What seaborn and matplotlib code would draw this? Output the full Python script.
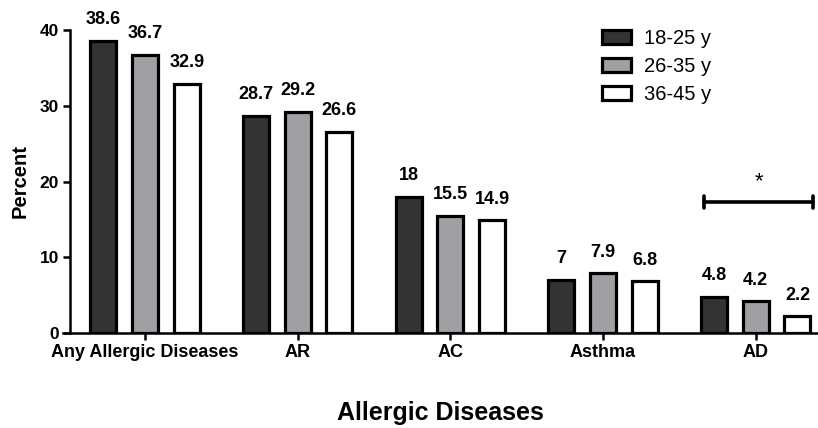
import seaborn as sns
import matplotlib.pyplot as plt
import pandas as pd
from matplotlib.patches import Patch

# values (percent)
diseases = ['Any Allergic Diseases', 'AR', 'AC', 'Asthma', 'AD']
age_groups = ['18-25 y', '26-35 y', '36-45 y']
age_18_25 = [38.6, 28.7, 18.0, 7.0, 4.8]
age_26_35 = [36.7, 29.2, 15.5, 7.9, 4.2]
age_36_45 = [32.9, 26.6, 14.9, 6.8, 2.2]
colors = ['#333333', '#a0a0a4', '#ffffff']

df = pd.DataFrame({
    'Allergic Diseases': diseases * 3,
    'Age': [a for a in age_groups for _ in diseases],
    'Percent': age_18_25 + age_26_35 + age_36_45,
})

sns.set_style('ticks')
plt.rcParams['font.family'] = ['Liberation Sans', 'DejaVu Sans']
plt.rcParams['text.color'] = 'black'
plt.rcParams['axes.labelcolor'] = 'black'

fig = plt.figure(figsize=(8.18, 4.28), dpi=100)
ax = fig.add_axes([63 / 818, 95 / 428, 1 - 63 / 818, 303 / 428])

sns.barplot(data=df, x='Allergic Diseases', y='Percent', hue='Age',
            order=diseases, hue_order=age_groups, palette=colors,
            width=0.82, gap=0.377, edgecolor='black', linewidth=2.3,
            saturation=1, legend=False, ax=ax)

for cont in ax.containers:
    ax.bar_label(cont, fmt='%g', padding=9, fontsize=13, fontweight='bold',
                 color='black')

ax.set_ylim(0, 40)
ax.set_xlim(-0.537, 4.408)
ax.set_yticks([0, 10, 20, 30, 40])
ax.spines['left'].set_position(('data', -0.491))
ax.spines['left'].set_linewidth(1.8)
ax.spines['bottom'].set_linewidth(1.8)
ax.spines['left'].set_color('black')
ax.spines['bottom'].set_color('black')
sns.despine(ax=ax)
ax.tick_params(axis='both', width=1.8, length=5, colors='black')
ax.tick_params(axis='x', labelsize=13, pad=3)
ax.tick_params(axis='y', labelsize=12.5, pad=3)
for lab in ax.get_xticklabels() + ax.get_yticklabels():
    lab.set_fontweight('bold')

ax.set_xlabel('Allergic Diseases', fontsize=18, fontweight='bold', labelpad=29)
ax.set_ylabel('Percent', fontsize=14.5, fontweight='bold', labelpad=7)

# significance bracket over AD
ad_bars = [c.patches[4] for c in ax.containers]
x0 = ad_bars[0].get_x() + 0.02
x1 = ad_bars[-1].get_x() + ad_bars[-1].get_width() + 0.02
yb = 17.3
ax.plot([x0, x1], [yb, yb], color='black', lw=2.6, clip_on=False)
ax.plot([x0, x0], [yb - 0.85, yb + 0.85], color='black', lw=2.6, clip_on=False)
ax.plot([x1, x1], [yb - 0.85, yb + 0.85], color='black', lw=2.6, clip_on=False)
ax.text((x0 + x1) / 2, yb + 1.3, '*', ha='center', va='bottom', fontsize=16)

handles = [Patch(facecolor=c, edgecolor='black', linewidth=2.3) for c in colors]
fig.legend(handles, age_groups, loc='upper left',
           bbox_to_anchor=(602 / 818, 1 - 29 / 428), frameon=False,
           fontsize=14.5, handlelength=1.45, handleheight=0.75,
           handletextpad=0.62, labelspacing=0.45, borderpad=0,
           borderaxespad=0)

fig.savefig('out.png', dpi=100)
